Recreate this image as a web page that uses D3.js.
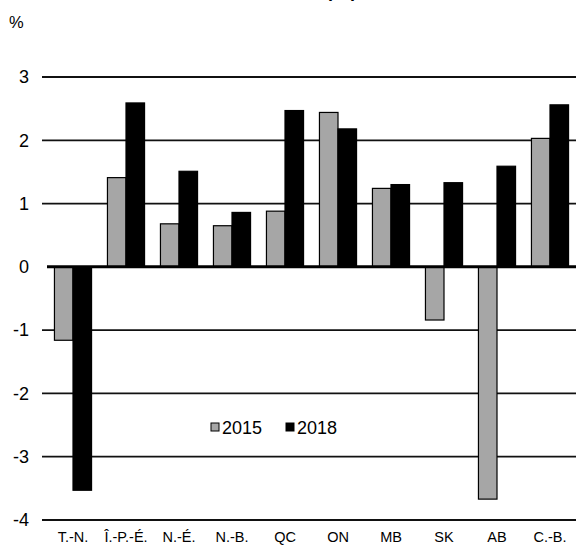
<!DOCTYPE html>
<html><head><meta charset="utf-8">
<script src="https://cdn.jsdelivr.net/npm/d3@7"></script>
<style>body{margin:0;background:#fff}svg{display:block}text{font-family:"Liberation Sans",Arial,sans-serif}</style>
</head><body><svg id="c" width="576" height="548"></svg>
<script>
const categories = ["T.-N.","Î.-P.-É.","N.-É.","N.-B.","QC","ON","MB","SK","AB","C.-B."];
const series2015 = [-1.16,1.41,0.68,0.65,0.88,2.44,1.24,-0.84,-3.67,2.03];
const series2018 = [-3.53,2.59,1.51,0.86,2.47,2.18,1.30,1.33,1.59,2.56];
const seriesNames = ["2015","2018"];
const yTicks = [3,2,1,0,-1,-2,-3,-4];
const colors = ["#a6a6a6","#000000"];

const svg = d3.select("#c");
const x = d3.scaleBand().domain(categories).range([46.5,576.5]).paddingInner(0.3).paddingOuter(0.15);
const x1 = d3.scaleBand().domain(seriesNames).range([0,x.bandwidth()]);
const y = d3.scaleLinear().domain([-4,3]).range([520,77]);

// title (cut off at top, as in the reference)
svg.append("text").attr("x",300).attr("y",-3.5).attr("text-anchor","middle")
  .attr("font-size",18).attr("font-weight","bold").text("Croissance de la population");

svg.append("text").attr("x",9).attr("y",28).attr("font-size",16.5).text("%");

// gridlines
const yAxis = d3.axisLeft(y).tickValues(yTicks).tickSize(0).tickPadding(13).tickFormat(d=>String(d));
const ga = svg.append("g").attr("transform","translate(42,0)").call(yAxis);
ga.select(".domain").remove();
ga.selectAll("text").attr("font-size",18).attr("fill","#000").attr("font-family","Liberation Sans, Arial, sans-serif");
svg.append("g").selectAll("line").data(yTicks.filter(d=>d!==0)).join("line")
  .attr("x1",42).attr("x2",576).attr("y1",d=>y(d)).attr("y2",d=>y(d))
  .attr("stroke","#111").attr("stroke-width",1.8);

const data = [series2015, series2018];
const groups = svg.append("g").selectAll("g").data(categories).join("g")
  .attr("transform",c=>`translate(${x(c)},0)`);
groups.selectAll("rect").data((c,i)=>seriesNames.map((s,j)=>({s,j,v:data[j][i]}))).join("rect")
  .attr("x",d=>x1(d.s)).attr("width",x1.bandwidth())
  .attr("y",d=>y(Math.max(0,d.v))).attr("height",d=>Math.abs(y(d.v)-y(0)))
  .attr("fill",d=>colors[d.j]).attr("stroke","#000").attr("stroke-width",1.2);

// zero line
svg.append("line").attr("x1",47).attr("x2",576).attr("y1",y(0)).attr("y2",y(0))
  .attr("stroke","#000").attr("stroke-width",3);

// x labels
const xAxis = d3.axisBottom(x).tickSize(0).tickPadding(0);
const gx = svg.append("g").attr("transform","translate(0,532)").call(xAxis);
gx.select(".domain").remove();
gx.selectAll("text").attr("font-size",14.5).attr("fill","#000").attr("font-family","Liberation Sans, Arial, sans-serif").attr("dy","0.71em");

// legend
const leg = svg.append("g");
const legX = [211,286];
seriesNames.forEach((s,i)=>{
  leg.append("rect").attr("x",legX[i]).attr("y",423).attr("width",8).attr("height",8)
    .attr("fill",colors[i]).attr("stroke","#000").attr("stroke-width",1);
  leg.append("text").attr("x",legX[i]+11).attr("y",434).attr("font-size",18).text(s);
});
</script></body></html>
